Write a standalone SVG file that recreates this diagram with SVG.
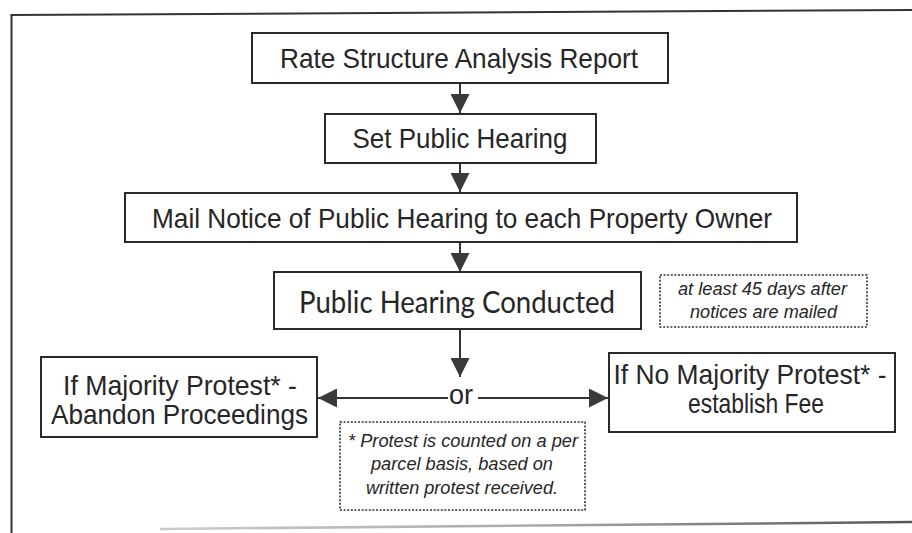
<svg xmlns="http://www.w3.org/2000/svg" width="912" height="533" viewBox="0 0 912 533">
<defs>
<style>
.box{fill:#fff;stroke:#2a2a2a;stroke-width:2}
.note{fill:#fff;stroke:#333;stroke-width:1.6;stroke-dasharray:2 1.6}
.t{font-family:"Liberation Sans",Arial,sans-serif;font-size:28px;fill:#262626;text-anchor:middle}
.c{font-family:"Lato","Open Sans",sans-serif;font-size:30px;fill:#262626;text-anchor:middle}
.n{font-family:"Liberation Sans",Arial,sans-serif;font-size:18px;font-style:italic;fill:#262626;text-anchor:middle}
.ln{stroke:#333;stroke-width:2;fill:none}
.frame{stroke:#333;stroke-width:2;fill:none}
</style>
<marker id="ah" viewBox="0 0 10 10" refX="10" refY="5" markerUnits="userSpaceOnUse" markerWidth="19" markerHeight="19" orient="auto">
<path d="M0,0 L10,5 L0,10 z" fill="#3a3a3a"/>
</marker>
<linearGradient id="bg" x1="0" y1="0" x2="1" y2="0">
<stop offset="0" stop-color="#ccc"/>
<stop offset="0.5" stop-color="#aaa"/>
<stop offset="1" stop-color="#555"/>
</linearGradient>
</defs>
<rect width="912" height="533" fill="#fff"/>
<g id="frame">
<line class="frame" x1="11.5" y1="15" x2="11.5" y2="533"/>
<line class="frame" x1="10.5" y1="15" x2="912" y2="10"/>
<line x1="160" y1="529" x2="912" y2="522" stroke="url(#bg)" stroke-width="2.5"/>
</g>
<g id="connectors">
<line class="ln" x1="460" y1="83" x2="460" y2="113" marker-end="url(#ah)"/>
<line class="ln" x1="460" y1="163" x2="460" y2="192" marker-end="url(#ah)"/>
<line class="ln" x1="460" y1="242" x2="460" y2="272" marker-end="url(#ah)"/>
<line class="ln" x1="460" y1="329" x2="460" y2="377" marker-end="url(#ah)"/>
<line class="ln" x1="448" y1="398" x2="318" y2="398" marker-end="url(#ah)"/>
<line class="ln" x1="478" y1="398" x2="608" y2="398" marker-end="url(#ah)"/>
<text class="t" x="461" y="404" textLength="24" lengthAdjust="spacingAndGlyphs">or</text>
</g>
<g id="n1">
<rect class="box" x="252" y="33" width="416" height="50"/>
<text class="t" x="459" y="68" textLength="358" lengthAdjust="spacingAndGlyphs">Rate Structure Analysis Report</text>
</g>
<g id="n2">
<rect class="box" x="325" y="114" width="271" height="49"/>
<text class="t" x="460" y="148" textLength="215" lengthAdjust="spacingAndGlyphs">Set Public Hearing</text>
</g>
<g id="n3">
<rect class="box" x="125" y="193" width="672" height="49"/>
<text class="t" x="462" y="228" textLength="620" lengthAdjust="spacingAndGlyphs">Mail Notice of Public Hearing to each Property Owner</text>
</g>
<g id="n4">
<rect class="box" x="274" y="272" width="367" height="57"/>
<text class="c" x="457" y="313" textLength="316" lengthAdjust="spacingAndGlyphs">Public Hearing Conducted</text>
</g>
<g id="note1">
<rect class="note" x="660" y="275" width="207" height="52"/>
<text class="n" x="762.5" y="295" textLength="169" lengthAdjust="spacingAndGlyphs">at least 45 days after</text>
<text class="n" x="763.5" y="318" textLength="147" lengthAdjust="spacingAndGlyphs">notices are mailed</text>
</g>
<g id="n5">
<rect class="box" x="41" y="357" width="276" height="80"/>
<text class="t" x="180" y="395" textLength="234" lengthAdjust="spacingAndGlyphs">If Majority Protest* -</text>
<text class="t" x="179.5" y="424" textLength="257" lengthAdjust="spacingAndGlyphs">Abandon Proceedings</text>
</g>
<g id="n6">
<rect class="box" x="609" y="353" width="286" height="79"/>
<text class="t" x="750" y="384" textLength="273" lengthAdjust="spacingAndGlyphs">If No Majority Protest* -</text>
<text class="t" x="756" y="413" textLength="136" lengthAdjust="spacingAndGlyphs">establish Fee</text>
</g>
<g id="note2">
<rect class="note" x="340" y="422" width="245" height="88"/>
<text class="n" x="463" y="447" textLength="230" lengthAdjust="spacingAndGlyphs">* Protest is counted on a per</text>
<text class="n" x="462" y="470" textLength="182" lengthAdjust="spacingAndGlyphs">parcel basis, based on</text>
<text class="n" x="462" y="494" textLength="192" lengthAdjust="spacingAndGlyphs">written protest received.</text>
</g>
</svg>
